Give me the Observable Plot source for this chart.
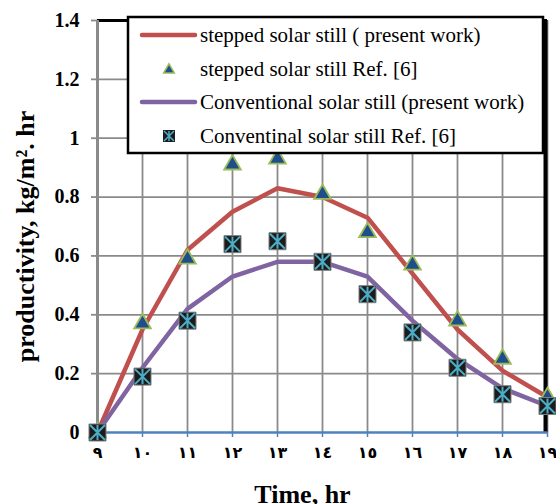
<!DOCTYPE html>
<html><head><meta charset="utf-8">
<script src="https://cdn.jsdelivr.net/npm/d3@7"></script>
<script src="https://cdn.jsdelivr.net/npm/@observablehq/plot@0.6"></script>
<style>body{margin:0;background:#fff} #chart{width:556px;height:504px;overflow:hidden}</style>
</head><body><div id="chart"></div>
<script>
const hours = [9,10,11,12,13,14,15,16,17,18,19];
const xTickLabels = ["٩","١٠","١١","١٢","١٣","١٤","١٥","١٦","١٧","١٨","١٩"];
const yTicks = [0,0.2,0.4,0.6,0.8,1,1.2,1.4];
const yTickLabels = ["0","0.2","0.4","0.6","0.8","1","1.2","1.4"];
const steppedPresent = [0,0.35,0.62,0.75,0.83,0.80,0.73,0.54,0.35,0.21,0.12];
const steppedRef     = [0,0.37,0.59,0.91,0.93,0.81,0.68,0.57,0.38,0.25,0.12];
const convPresent    = [0,0.22,0.42,0.53,0.58,0.58,0.53,0.38,0.25,0.15,0.09];
const convRef        = [0,0.19,0.38,0.64,0.65,0.58,0.47,0.34,0.22,0.13,0.09];
const seriesNames = [
  "stepped solar still ( present work)",
  "stepped solar still Ref. [6]",
  "Conventional solar still (present work)",
  "Conventinal solar still Ref. [6]"
];
const xTitle = "Time, hr";
const yTitle = "productivity, kg/m². hr";

const rows = (vals) => hours.map((h,i)=>({h, v: vals[i]}));
const asterisk = {draw(ctx, size){ const s = Math.sqrt(size/Math.PI);
  ctx.moveTo(0,-s); ctx.lineTo(0,s);
  ctx.moveTo(-s,-s); ctx.lineTo(s,s);
  ctx.moveTo(-s,s); ctx.lineTo(s,-s);}};

const font = "'Liberation Serif','Times New Roman','DejaVu Serif',serif";
const plot = Plot.plot({
  width: 556, height: 504,
  marginLeft: 97, marginRight: 9, marginTop: 20, marginBottom: 72,
  style: {fontFamily: font, fontSize: "20px", fontWeight: "bold", background: "#fff", overflow: "visible"},
  x: {domain: [9,19]},
  y: {domain: [0,1.4]},
  marks: [
    Plot.gridX(hours.slice(1), {stroke: "#8a8a8a", strokeOpacity: 1, strokeWidth: 1.8}),
    Plot.gridY(yTicks.slice(1,-1), {stroke: "#8a8a8a", strokeOpacity: 1, strokeWidth: 1.8}),
    Plot.axisY({ticks: yTicks, tickFormat: (d,i)=>yTickLabels[i], tickSize: 6, tickPadding: 12, stroke: "#8a8a8a", strokeWidth: 1.8, label: null, fontSize: 20}),
    Plot.axisX({ticks: hours, tickFormat: (d,i)=>xTickLabels[i], tickSize: 5, tickPadding: 9, stroke: "#4f81bd", strokeWidth: 1.5, label: null, fontSize: 16, fontFamily: "'DejaVu Sans',sans-serif"}),
    Plot.ruleY([1.4], {stroke: "#000", strokeWidth: 3}),
    Plot.ruleX([19], {stroke: "#000", strokeWidth: 4, dx: -2}),
    Plot.ruleX([9], {stroke: "#8a8a8a", strokeWidth: 3}),
    Plot.ruleY([0], {stroke: "#4f81bd", strokeWidth: 2.5}),
    Plot.line(rows(steppedPresent), {x: "h", y: "v", stroke: "#c0504d", strokeWidth: 4.5, strokeLinejoin: "round", strokeLinecap: "round"}),
    Plot.dot(rows(steppedRef), {x: "h", y: "v", symbol: "triangle", r: 6.2, fill: "#1f4e8c", stroke: "#9bbb59", strokeWidth: 1.8}),
    Plot.line(rows(convPresent), {x: "h", y: "v", stroke: "#8064a2", strokeWidth: 4.5, strokeLinejoin: "round", strokeLinecap: "round"}),
    Plot.dot(rows(convRef), {x: "h", y: "v", symbol: "square", r: 9.6, fill: "#1c1c1c", stroke: "#7f7f7f", strokeWidth: 1}),
    Plot.dot(rows(convRef), {x: "h", y: "v", symbol: asterisk, r: 7.5, fill: "none", stroke: "#4bacc6", strokeWidth: 2}),
    Plot.text([yTitle], {frameAnchor: "left", textAnchor: "middle", lineAnchor: "bottom", rotate: -90, dx: -64, dy: 10, fontSize: 26, fontWeight: "bold"}),
    Plot.text([xTitle], {frameAnchor: "bottom", dx: -20, dy: 70, fontSize: 26, fontWeight: "bold"})
  ]
});
document.getElementById("chart").appendChild(plot);

// legend
const svg = d3.select(plot);
const lg = svg.append("g");
lg.append("rect").attr("x",128).attr("y",17).attr("width",415).attr("height",136)
  .attr("fill","#fff").attr("stroke","#000").attr("stroke-width",2.5);
const rowY = [35, 69, 102, 136];
const kinds = ["redline","tri","purpleline","sq"];
kinds.forEach((k,i)=>{
  const y = rowY[i];
  if (k === "redline" || k === "purpleline") {
    lg.append("line").attr("x1",142).attr("x2",195).attr("y1",y).attr("y2",y)
      .attr("stroke", k==="redline" ? "#c0504d" : "#8064a2").attr("stroke-width",4.5).attr("stroke-linecap","round");
  } else if (k === "tri") {
    lg.append("path").attr("d", d3.symbol(d3.symbolTriangle, 50)()).attr("transform",`translate(169,${y+1})`)
      .attr("fill","#1f4e8c").attr("stroke","#9bbb59").attr("stroke-width",1.5);
  } else {
    lg.append("rect").attr("x",163).attr("y",y-6).attr("width",12).attr("height",12).attr("fill","#1c1c1c");
    lg.append("path").attr("d","M169,"+(y-5)+"V"+(y+5)+"M164,"+(y-5)+"L174,"+(y+5)+"M164,"+(y+5)+"L174,"+(y-5))
      .attr("stroke","#4bacc6").attr("stroke-width",1.5);
  }
  lg.append("text").attr("x",200).attr("y",y+7).attr("font-size",21).attr("font-weight","normal")
    .attr("text-anchor","start").attr("font-family",font).text(seriesNames[i]);
});
</script></body></html>
